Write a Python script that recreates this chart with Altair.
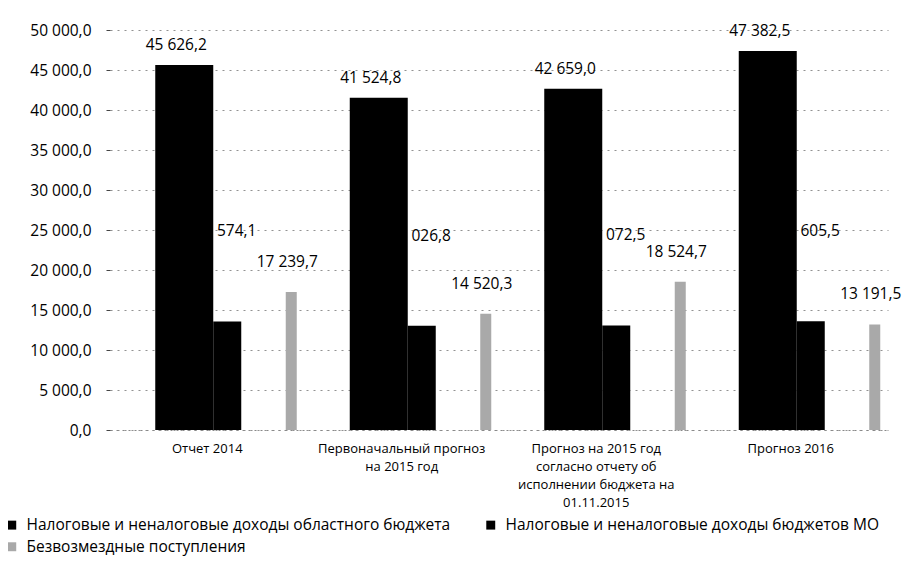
import altair as alt
import pandas as pd

categories = [
    "Отчет 2014",
    "Первоначальный прогноз\nна 2015  год",
    "Прогноз на 2015 год\nсогласно отчету об\nисполнении бюджета на\n01.11.2015",
    "Прогноз 2016",
]
series = [
    "Налоговые и неналоговые доходы областного бюджета",
    "Налоговые и неналоговые доходы бюджетов МО",
    "Безвозмездные поступления",
]
regional = [45626.2, 41524.8, 42659.0, 47382.5]
municipal = [13574.1, 13026.8, 13072.5, 13605.5]
grants = [17239.7, 14520.3, 18524.7, 13191.5]
y_ticks = [0, 5000, 10000, 15000, 20000, 25000, 30000, 35000, 40000, 45000, 50000]
colors = ["#000000", "#000000", "#a9a9a9"]


def fmt(v):
    return f"{v:,.1f}".replace(",", " ").replace(".", ",")


rows = []
for i, c in enumerate(categories):
    for s, vals in zip(series, [regional, municipal, grants]):
        rows.append({"category": c, "series": s, "value": vals[i], "label": fmt(vals[i])})
df = pd.DataFrame(rows)

FONT = "Open Sans"

x_enc = alt.X(
    "category:N",
    sort=categories,
    scale=alt.Scale(domain=categories, paddingInner=0, paddingOuter=0),
    axis=alt.Axis(
        title=None,
        labelAngle=0,
        labelExpr="split(datum.label, '\\n')",
        labelFontSize=13,
        labelLineHeight=18,
        labelFont=FONT,
        labelColor="#000",
        labelPadding=12,
        ticks=False,
        domain=True,
        domainDash=[2, 4],
        domainColor="#888",
    ),
)
y_enc = alt.Y(
    "value:Q",
    scale=alt.Scale(domain=[0, 50000], nice=False),
    axis=alt.Axis(
        title=None,
        values=y_ticks,
        labelExpr="replace(replace(format(datum.value, ',.1f'), ',', ' '), '.', ',')",
        labelFontSize=15.5,
        labelFont=FONT,
        labelColor="#000",
        labelPadding=15,
        tickSize=4,
        tickColor="#444",
        domain=False,
        grid=True,
        gridDash=[2, 5],
        gridColor="#777",
        gridOpacity=0.8,
    ),
)
color_enc = alt.Color(
    "series:N",
    scale=alt.Scale(domain=series, range=colors),
    legend=alt.Legend(
        title=None,
        orient="none",
        legendX=-106,
        legendY=487,
        direction="horizontal",
        columns=2,
        columnPadding=32,
        rowPadding=5,
        symbolType="square",
        symbolSize=80,
        labelOffset=7,
        labelFontSize=15.5,
        labelFont=FONT,
        labelColor="#000",
        labelLimit=600,
    ),
)

base = alt.Chart(df).encode(x=x_enc, y=y_enc)


def only(i):
    return base.transform_filter(alt.datum.series == series[i])


text2 = only(1).mark_text(
    align="left", baseline="middle", dx=-12, dy=-90, fontSize=15.5, font=FONT, color="#000"
).encode(text="label:N")
bar1 = only(0).mark_bar(width=58, xOffset=-23).encode(color=color_enc)
bar2 = only(1).mark_bar(width=28, xOffset=20).encode(color=color_enc)
bar3 = only(2).mark_bar(width=11, xOffset=84).encode(color=color_enc)
text1 = only(0).mark_text(
    align="center", baseline="middle", dx=-31, dy=-20, fontSize=15.5, font=FONT, color="#000"
).encode(text="label:N")
text3 = only(2).mark_text(
    align="center", baseline="middle", dx=80, dy=-30, fontSize=15.5, font=FONT, color="#000"
).encode(text="label:N")

chart = (
    alt.layer(text2, bar1, bar2, bar3, text1, text3)
    .properties(
        width=778,
        height=400,
        autosize=alt.AutoSizeParams(type="none"),
        padding={"left": 102, "top": 22, "right": 15, "bottom": 126},
        background="white",
    )
    .configure_view(strokeWidth=0)
)

chart.save("out.html", embed_options={"renderer": "svg", "actions": False})
